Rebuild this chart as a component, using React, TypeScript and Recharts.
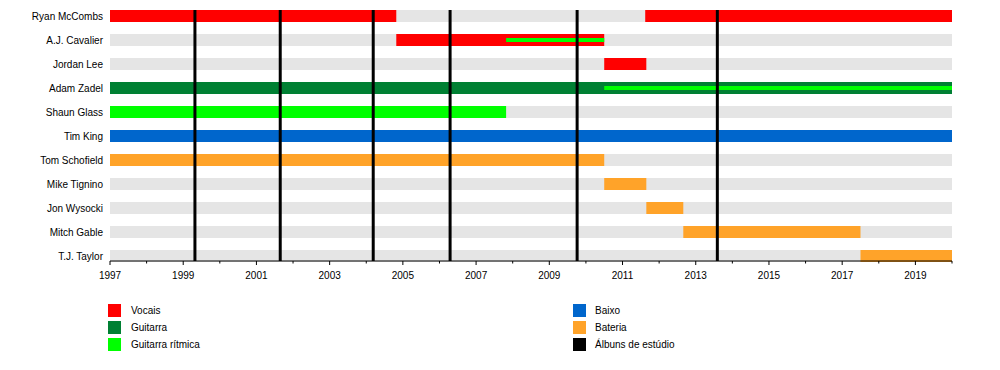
import React from "react";
import { BarChart, Bar, XAxis, YAxis, ReferenceLine } from "recharts";

// band members, top to bottom
const members = [
  "Ryan McCombs",
  "A.J. Cavalier",
  "Jordan Lee",
  "Adam Zadel",
  "Shaun Glass",
  "Tim King",
  "Tom Schofield",
  "Mike Tignino",
  "Jon Wysocki",
  "Mitch Gable",
  "T.J. Taylor",
];

type Span = [number, number] | null;

const timeline: [number, number] = [1997, 2020];
const years = Array.from({ length: 24 }, (_, i) => 1997 + i);
const albumYears = [1999.32, 2001.65, 2004.19, 2006.29, 2009.76, 2013.59];

const vocals: Span[] = [[1997, 2004.82], [2004.82, 2010.5], [2010.5, 2011.65], null, null, null, null, null, null, null, null];
const vocalsLater: Span[] = [[2011.62, 2020], null, null, null, null, null, null, null, null, null, null];
const guitar: Span[] = [null, null, null, [1997, 2020], null, null, null, null, null, null, null];
const rhythm: Span[] = [null, null, null, null, [1997, 2007.82], null, null, null, null, null, null];
const rhythmPart: Span[] = [null, [2007.82, 2010.5], null, [2010.5, 2020], null, null, null, null, null, null, null];
const bass: Span[] = [null, null, null, null, null, [1997, 2020], null, null, null, null, null];
const drums: Span[] = [null, null, null, null, null, null, [1997, 2010.5], [2010.5, 2011.65], [2011.65, 2012.66], [2012.66, 2017.5], [2017.5, 2020]];

const legendLeft = ["Vocais", "Guitarra", "Guitarra rítmica"];
const legendRight = ["Baixo", "Bateria", "Álbuns de estúdio"];

const data = members.map((name, i) => ({
  name,
  full: timeline,
  vocals: vocals[i],
  vocalsLater: vocalsLater[i],
  guitar: guitar[i],
  rhythm: rhythm[i],
  bass: bass[i],
  drums: drums[i],
  rhythmPart: rhythmPart[i],
}));

const colors: Record<string, string> = {
  full: "#e5e5e5",
  vocals: "#ff0000",
  vocalsLater: "#ff0000",
  guitar: "#008033",
  rhythm: "#00ff00",
  bass: "#0066cc",
  drums: "#ffa329",
  rhythmPart: "#00ff00",
  album: "#000000",
};
const legendColors = [
  [colors.vocals, colors.guitar, colors.rhythm],
  [colors.bass, colors.drums, colors.album],
];

const layers = ["vocals", "vocalsLater", "guitar", "rhythm", "bass", "drums", "rhythmPart"];

const FONT = "'Liberation Sans', Arial, sans-serif";
const PAD = { top: -6, bottom: -7 };
const NAME_W = 110;

const YearTick = (props: any) => {
  const { x, y, payload } = props;
  const major = (payload.value - 1997) % 2 === 0;
  return (
    <g>
      <line x1={x} x2={x} y1={y} y2={y + (major ? 4 : 2.5)} stroke="#000" />
      {major && payload.value < 2020 && (
        <text x={x} y={y + 18} textAnchor="middle" fontSize={10} fontFamily={FONT} fill="#000">
          {payload.value}
        </text>
      )}
    </g>
  );
};

// recharts hands odd x values to ticks here, so anchor names to the axis width
const NameTick = (props: any) => {
  const { y, payload } = props;
  return (
    <text x={NAME_W - 7} y={y} dy="0.35em" textAnchor="end" fontSize={10} fontFamily={FONT} fill="#000">
      {payload.value}
    </text>
  );
};

export default function App() {
  return (
    <div style={{ position: "absolute", left: 0, top: 0, width: 1000, height: 370, background: "#fff" }}>
      <BarChart
        width={1000}
        height={290}
        data={data}
        layout="vertical"
        margin={{ top: 10, right: 48, bottom: 0, left: 0 }}
        barCategoryGap={0}
      >
        <XAxis
          type="number"
          domain={timeline}
          ticks={years}
          interval={0}
          height={29}
          tickSize={0}
          tickMargin={0}
          tickLine={false}
          axisLine={{ stroke: "#000" }}
          tick={<YearTick />}
        />
        <YAxis
          yAxisId="full"
          type="category"
          dataKey="name"
          width={NAME_W}
          padding={PAD}
          tickSize={0}
          tickLine={false}
          axisLine={{ stroke: "#000" }}
          tick={<NameTick />}
          interval={0}
        />
        {layers.map((k) => (
          <YAxis key={k} yAxisId={k} type="category" dataKey="name" hide padding={PAD} />
        ))}
        <Bar yAxisId="full" dataKey="full" fill={colors.full} barSize={12} isAnimationActive={false} />
        {albumYears.map((yr) => (
          <ReferenceLine key={yr} yAxisId="full" x={yr} stroke={colors.album} strokeWidth={3} />
        ))}
        {layers.map((k) => (
          <Bar
            key={k}
            yAxisId={k}
            dataKey={k}
            fill={colors[k]}
            barSize={k === "rhythmPart" ? 4 : 12}
            isAnimationActive={false}
          />
        ))}
      </BarChart>
      {[legendLeft, legendRight].map((col, c) => (
        <div key={c} style={{ position: "absolute", left: c === 0 ? 108 : 573, top: 302, fontFamily: FONT, fontSize: 10 }}>
          {col.map((label, i) => (
            <div key={label} style={{ display: "flex", alignItems: "center", height: 17 }}>
              <span style={{ width: 13, height: 13, background: legendColors[c][i], display: "inline-block" }} />
              <span style={{ marginLeft: c === 0 ? 10 : 9, lineHeight: "13px" }}>{label}</span>
            </div>
          ))}
        </div>
      ))}
    </div>
  );
}
